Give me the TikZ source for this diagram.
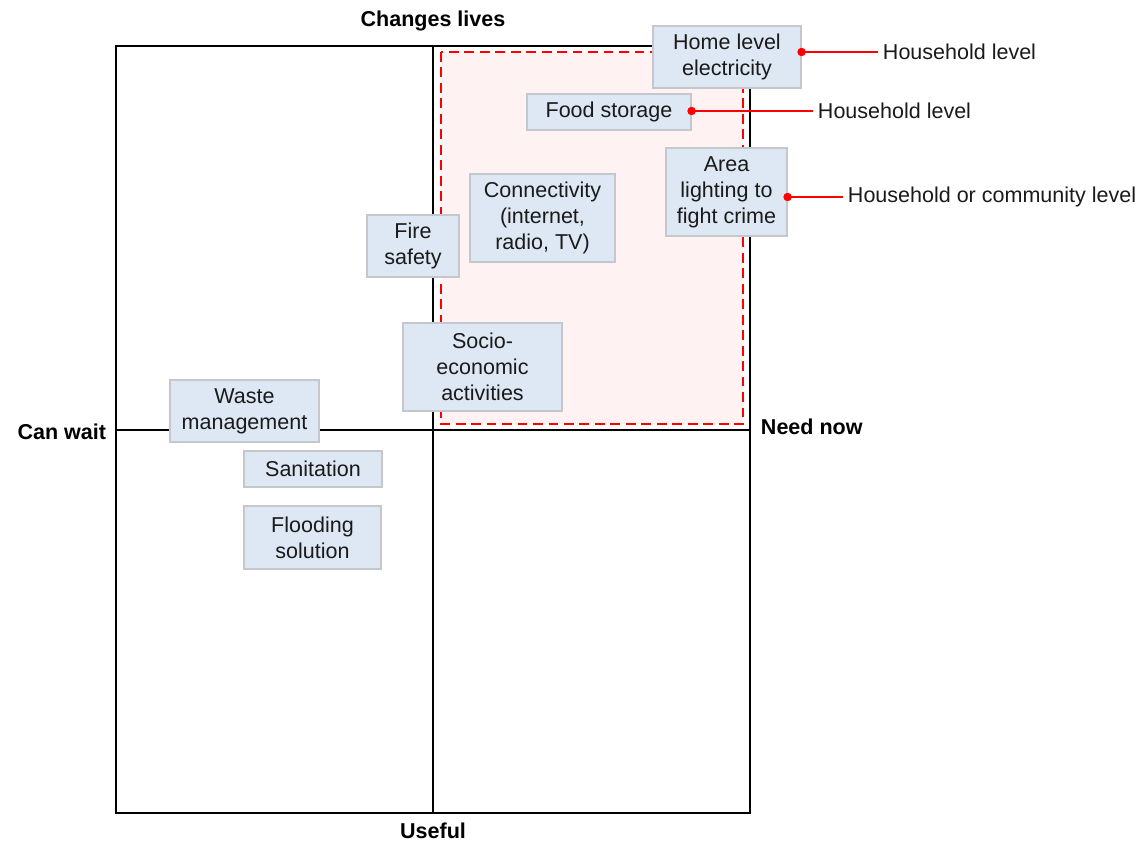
\documentclass[tikz,border=0pt]{standalone}
\usepackage{fontspec}
\setmainfont{Liberation Sans}
\usetikzlibrary{positioning}
\definecolor{boxfill}{HTML}{DEE8F4}
\definecolor{boxline}{HTML}{C4C8CC}
\definecolor{zonefill}{HTML}{FFF2F2}
\definecolor{txt}{HTML}{1A1A1A}

\begin{document}
\begin{tikzpicture}[x = 0.025cm, y = -0.025cm,
        item/.style = {draw = boxline, fill = boxfill, line width = 0.8pt, align = center,
            inner sep = 0pt, text = txt, font = \fontsize{15.3}{18.4}\selectfont},
        boxsize/.style 2 args = {minimum width = #1*0.025cm, minimum height = #2*0.025cm},
        axislabel/.style = {font = \fontsize{15.3}{18}\selectfont\bfseries},
        note/.style = {anchor = west, text = txt, font = \fontsize{15.3}{18}\selectfont},
        leader/.style = {red, line width = 0.8pt}]
    \useasboundingbox (0, 0) rectangle (1144, 841);

    % quadrants
    \draw[line width = 1.4pt] (116, 46) rectangle (750, 813);
    \draw[line width = 1.4pt] (433, 46) -- (433, 813);
    \draw[line width = 1.4pt] (116, 430) -- (750, 430);

    \node[axislabel] (top) at (433, 21) {Changes lives};
    \node[axislabel] (bottom) at (433, 831) {Useful};
    \node[axislabel, anchor = east] (left) at (111, 432) {Can wait};
    \node[axislabel, anchor = west] (right) at (756, 427) {Need now};

    % priority zone
    \draw[red, line width = 1.4pt, fill = zonefill, dash pattern = on 7pt off 4pt]
        (441, 52) rectangle (743, 424);

    \node[item, boxsize = {148}{62}] (home) at (727, 57) {Home level\\electricity};
    \node[item, boxsize = {164}{36}] (food) at (609, 112) {Food storage};
    \node[item, boxsize = {121}{88}] (area) at (726.5, 192) {Area\\lighting to\\fight crime};
    \node[item, boxsize = {145}{88}] (conn) at (542.5, 218) {Connectivity\\(internet,\\radio, TV)};
    \node[item, boxsize = {92}{62}] (fire) at (413, 246) {Fire\\safety};
    \node[item, boxsize = {159}{88}] (socio) at (482.5, 367) {Socio-\\economic\\activities};
    \node[item, boxsize = {149}{62}] (waste) at (244.5, 411) {Waste\\management};
    \node[item, boxsize = {138}{36}] (sanit) at (313, 469) {Sanitation};
    \node[item, boxsize = {137}{63}] (flood) at (312.5, 537.5) {Flooding\\solution};

    % levels
    \node[note] (lvlhome) at (878, 52) {Household level};
    \node[note] (lvlfood) at (813, 111) {Household level};
    \node[note] (lvlarea) at (843, 197) {Household or community level};

    \draw[leader] (home.east |- lvlhome.west) -- (lvlhome.west);
    \draw[leader] (food.east |- lvlfood.west) -- (lvlfood.west);
    \draw[leader] (area.east |- lvlarea.west) -- (lvlarea.west);
    \fill[red] (home.east |- lvlhome.west) circle (3pt);
    \fill[red] (food.east |- lvlfood.west) circle (3pt);
    \fill[red] (area.east |- lvlarea.west) circle (3pt);
\end{tikzpicture}
\end{document}
